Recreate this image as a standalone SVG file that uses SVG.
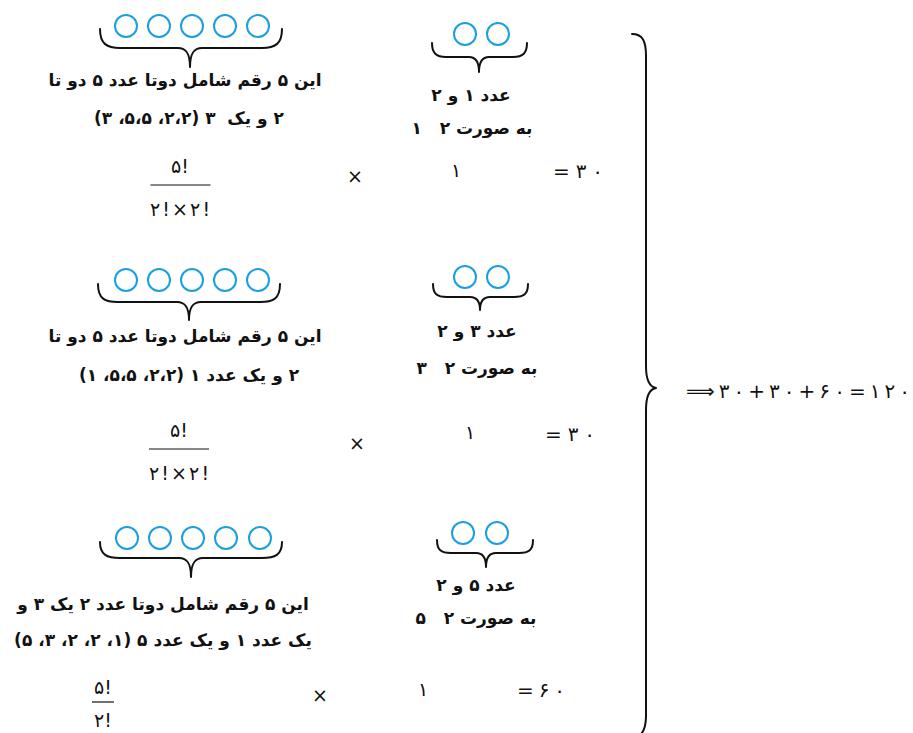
<svg xmlns="http://www.w3.org/2000/svg" width="913" height="733" viewBox="0 0 913 733">
<style>
.bg{fill:#ffffff}
.c{fill:none;stroke:#1a9fe0;stroke-width:2}
.br{fill:none;stroke:#111111;stroke-width:2;stroke-linecap:round;stroke-linejoin:round}
.fl{stroke:#111111;stroke-width:1.2}
.t{font-family:"DejaVu Sans",sans-serif;font-weight:bold;font-size:17px;fill:#111111;text-anchor:middle;direction:rtl}
.m{font-family:"DejaVu Sans",sans-serif;font-size:19px;fill:#111111;text-anchor:middle}
.ms{font-family:"DejaVu Sans",sans-serif;font-size:20px;fill:#111111;text-anchor:start}
</style>
<rect class="bg" x="0" y="0" width="913" height="733"/>

<g id="row1-digits">
  <circle class="c" cx="126" cy="26" r="11"/>
  <circle class="c" cx="159" cy="26" r="11"/>
  <circle class="c" cx="192" cy="26" r="11"/>
  <circle class="c" cx="225" cy="26" r="11"/>
  <circle class="c" cx="258" cy="26" r="11"/>
  <path class="br" d="M100,29 C100,44 107,48 120,48 L178,48 C186,48 190,53 190,67 C190,53 194,48 202,48 L262,48 C275,48 282,44 282,29"/>
  <text class="t" direction="rtl" x="185" y="86">این ۵ رقم شامل دوتا عدد ۵ دو تا</text>
  <text class="t" direction="rtl" x="189" y="124">۲ و یک&#160; ۳ (۲،۲، ۵،۵، ۳)</text>
</g>
<g id="row1-pair">
  <circle class="c" cx="465" cy="34" r="11"/>
  <circle class="c" cx="498" cy="34" r="11"/>
  <path class="br" d="M432,43 C432,53 436,57 446,57 L469,57 C476,57 479,62 479,72 C479,62 482,57 489,57 L513,57 C523,57 527,53 527,43"/>
  <text class="t" direction="rtl" x="471" y="101">عدد ۱ و ۲</text>
  <text class="t" direction="rtl" x="472" y="134">به صورت ۲&#160;&#160;&#160;۱</text>
</g>
<g id="row1-calc">
  <text class="m" x="180" y="173">۵!</text>
  <line class="fl" x1="150.5" y1="185" x2="210.5" y2="185"/>
  <text class="m" x="180" y="216" textLength="60" lengthAdjust="spacing">۲!×۲!</text>
  <text class="m" x="355" y="183">×</text>
  <text class="m" x="456" y="177">۱</text>
  <text class="ms" x="553" y="178" textLength="50" lengthAdjust="spacing">=۳۰</text>
</g>

<g id="row2-digits">
  <circle class="c" cx="126" cy="280" r="11"/>
  <circle class="c" cx="159" cy="280" r="11"/>
  <circle class="c" cx="192" cy="280" r="11"/>
  <circle class="c" cx="225" cy="280" r="11"/>
  <circle class="c" cx="258" cy="280" r="11"/>
  <path class="br" d="M98,284 C98,299 105,302 118,302 L177,302 C185,302 189,307 189,320 C189,307 193,302 201,302 L260,302 C273,302 280,299 280,284"/>
  <text class="t" direction="rtl" x="185" y="342">این ۵ رقم شامل دوتا عدد ۵ دو تا</text>
  <text class="t" direction="rtl" x="189" y="381">۲ و یک عدد ۱ (۲،۲، ۵،۵، ۱)</text>
</g>
<g id="row2-pair">
  <circle class="c" cx="465" cy="277" r="11"/>
  <circle class="c" cx="498" cy="277" r="11"/>
  <path class="br" d="M433,284 C433,294 437,297 447,297 L470,297 C477,297 480,302 480,310 C480,302 483,297 490,297 L514,297 C524,297 528,294 528,284"/>
  <text class="t" direction="rtl" x="477" y="337">عدد ۳ و ۲</text>
  <text class="t" direction="rtl" x="477" y="374">به صورت ۲&#160;&#160;&#160;۳</text>
</g>
<g id="row2-calc">
  <text class="m" x="179" y="437">۵!</text>
  <line class="fl" x1="149" y1="449" x2="209" y2="449"/>
  <text class="m" x="179" y="480" textLength="60" lengthAdjust="spacing">۲!×۲!</text>
  <text class="m" x="357" y="450">×</text>
  <text class="m" x="470" y="439">۱</text>
  <text class="ms" x="545" y="441" textLength="50" lengthAdjust="spacing">=۳۰</text>
</g>

<g id="row3-digits">
  <circle class="c" cx="127" cy="538" r="11"/>
  <circle class="c" cx="160" cy="538" r="11"/>
  <circle class="c" cx="193" cy="538" r="11"/>
  <circle class="c" cx="226" cy="538" r="11"/>
  <circle class="c" cx="260" cy="538" r="11"/>
  <path class="br" d="M100,542 C100,555 107,558 120,558 L179,558 C187,558 191,563 191,577 C191,563 195,558 203,558 L262,558 C275,558 282,555 282,542"/>
  <text class="t" direction="rtl" x="163" y="610">این ۵ رقم شامل دوتا عدد ۲ یک ۳ و</text>
  <text class="t" direction="rtl" x="163" y="646">یک عدد ۱ و یک عدد ۵ (۱، ۲، ۲، ۳، ۵)</text>
</g>
<g id="row3-pair">
  <circle class="c" cx="463" cy="533" r="11"/>
  <circle class="c" cx="497" cy="533" r="11"/>
  <path class="br" d="M437,540 C437,550 441,553 451,553 L476,553 C483,553 486,558 486,567 C486,558 489,553 496,553 L519,553 C529,553 533,550 533,540"/>
  <text class="t" direction="rtl" x="476" y="591">عدد ۵ و ۲</text>
  <text class="t" direction="rtl" x="476" y="624">به صورت ۲&#160;&#160;&#160;۵</text>
</g>
<g id="row3-calc">
  <text class="m" x="103" y="694">۵!</text>
  <line class="fl" x1="92" y1="702" x2="114" y2="702"/>
  <text class="m" x="103" y="727">۲!</text>
  <text class="m" x="320" y="702">×</text>
  <text class="m" x="423" y="696">۱</text>
  <text class="ms" x="517" y="697" textLength="48" lengthAdjust="spacing">=۶۰</text>
</g>

<g id="connectors">
  <path class="br" d="M632,34 C642,34 646,40 646,56 L646,366 C646,380 650,387 656,388 C650,389 646,396 646,410 L646,716 C646,728 643,733 639,736"/>
</g>

<g id="total">
  <text class="ms" x="686" y="398" textLength="224" lengthAdjust="spacing">⟹۳۰+۳۰+۶۰=۱۲۰</text>
</g>
</svg>
